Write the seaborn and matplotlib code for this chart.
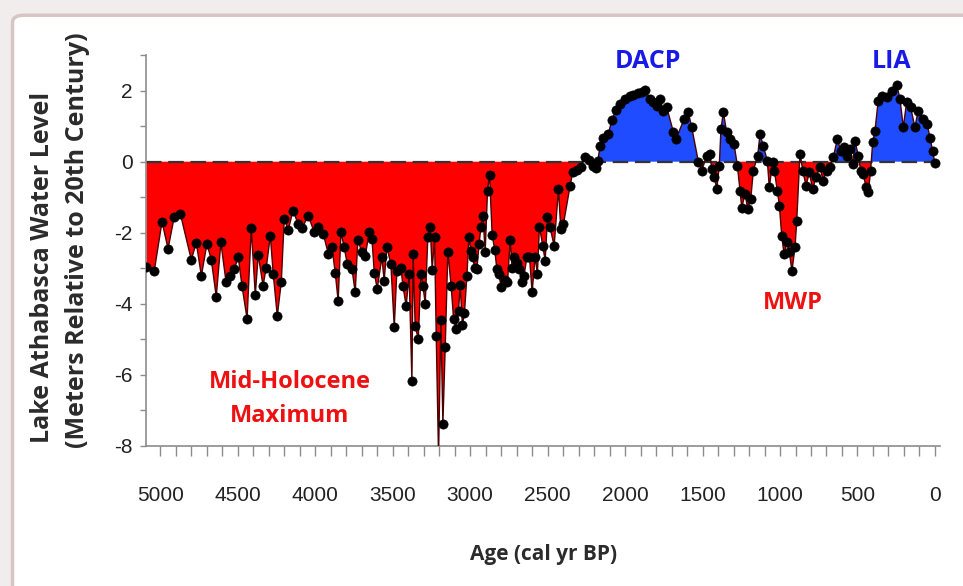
import matplotlib
matplotlib.use('Agg')
import pandas as pd
import matplotlib.pyplot as plt
import seaborn as sns
from matplotlib import font_manager
from matplotlib.patches import FancyBboxPatch
from matplotlib.ticker import MultipleLocator

# region Datos
ages = [5090, 5039, 4989, 4950, 4910, 4871, 4800, 4768, 4735, 4699,
        4671, 4639, 4609, 4576, 4548, 4522, 4497, 4473, 4440, 4413,
        4387, 4368, 4337, 4316, 4290, 4271, 4245, 4219, 4200, 4174,
        4144, 4110, 4084, 4045, 4006, 3980, 3948, 3916, 3892, 3871,
        3852, 3834, 3813, 3794, 3763, 3742, 3725, 3699, 3677, 3652,
        3634, 3619, 3600, 3570, 3555, 3538, 3512, 3490, 3473, 3447,
        3434, 3413, 3394, 3376, 3368, 3355, 3335, 3318, 3305, 3290,
        3273, 3258, 3245, 3230, 3219, 3204, 3189, 3176, 3161, 3144,
        3123, 3107, 3092, 3075, 3065, 3050, 3037, 3021, 3008, 2995,
        2983, 2972, 2957, 2942, 2931, 2918, 2903, 2888, 2875, 2858,
        2841, 2828, 2815, 2800, 2774, 2759, 2742, 2729, 2714, 2699,
        2684, 2666, 2652, 2634, 2617, 2600, 2581, 2566, 2553, 2531,
        2516, 2501, 2484, 2458, 2430, 2415, 2398, 2355, 2338, 2312,
        2286, 2258, 2230, 2204, 2189, 2176, 2161, 2144, 2108, 2086,
        2058, 2032, 2000, 1968, 1946, 1916, 1892, 1871, 1839, 1817,
        1796, 1774, 1753, 1731, 1688, 1671, 1619, 1592, 1570, 1527,
        1505, 1473, 1452, 1441, 1424, 1408, 1392, 1381, 1366, 1344,
        1323, 1297, 1275, 1258, 1247, 1226, 1208, 1189, 1172, 1144,
        1129, 1108, 1082, 1069, 1047, 1037, 1017, 1004, 989, 974,
        957, 940, 923, 903, 892, 871, 853, 832, 811, 789,
        768, 742, 721, 699, 677, 656, 630, 608, 587, 566,
        548, 531, 516, 495, 479, 462, 445, 430, 415, 402,
        387, 366, 344, 312, 279, 247, 226, 204, 183, 157,
        129, 108, 75, 50, 32, 15, 0]

levels = [-2.95, -3.07, -1.69, -2.45, -1.55, -1.46, -2.76, -2.28, -3.21, -2.31,
          -2.76, -3.80, -2.27, -3.38, -3.21, -3.02, -2.68, -3.49, -4.42, -1.88,
          -3.75, -2.62, -3.49, -2.98, -2.08, -3.16, -4.34, -3.38, -1.61, -1.92,
          -1.38, -1.75, -1.86, -1.52, -1.99, -1.83, -2.03, -2.59, -2.41, -3.12,
          -3.92, -1.99, -2.41, -2.87, -3.01, -3.68, -2.20, -2.55, -2.65, -1.99,
          -2.17, -3.12, -3.58, -2.69, -3.35, -2.41, -2.87, -4.65, -3.07, -2.98,
          -3.49, -4.06, -3.16, -6.17, -2.60, -4.62, -4.99, -3.16, -3.49, -4.00,
          -2.11, -1.83, -3.04, -2.13, -4.90, -8.30, -4.45, -7.37, -5.21, -2.53,
          -3.49, -4.42, -4.70, -4.20, -3.46, -4.59, -4.27, -3.21, -2.11, -2.51,
          -2.68, -2.98, -3.02, -2.31, -1.85, -1.52, -2.53, -0.82, -0.37, -2.06,
          -2.49, -3.02, -3.16, -3.52, -3.33, -3.40, -2.21, -2.98, -2.68, -2.84,
          -3.02, -3.40, -3.21, -2.68, -2.68, -3.68, -2.68, -3.15, -1.83, -2.37,
          -2.79, -1.57, -1.85, -2.37, -0.77, -1.90, -1.76, -0.68, -0.30, -0.23,
          -0.14, 0.14, 0.05, -0.11, -0.18, 0.03, 0.45, 0.68, 0.78, 1.17,
          1.46, 1.63, 1.77, 1.86, 1.89, 1.92, 1.95, 2.02, 1.77, 1.67,
          1.58, 1.77, 1.44, 1.53, 0.83, 0.64, 1.20, 1.39, 0.97, 0.00,
          -0.25, 0.17, 0.23, -0.21, -0.44, -0.77, -0.11, 0.92, 1.39, 0.83,
          0.64, 0.50, -0.11, -0.82, -1.29, -0.91, -1.33, -1.05, -0.25, 0.17,
          0.78, 0.45, 0.03, -0.72, 0.00, -0.25, -0.82, -1.24, -2.08, -2.60,
          -2.27, -2.55, -3.07, -2.41, -1.66, 0.23, -0.25, -0.68, -0.30, -0.77,
          -0.44, -0.16, -0.54, -0.25, -0.16, 0.12, 0.64, 0.31, 0.40, 0.17,
          0.36, -0.07, 0.59, 0.17, -0.25, -0.35, -0.72, -0.86, -0.25, 0.54,
          0.87, 1.72, 1.86, 1.81, 1.98, 2.17, 1.77, 0.97, 1.67, 1.53,
          0.97, 1.44, 1.20, 1.06, 0.68, 0.31, -0.05]

x_ticks = [0, 500, 1000, 1500, 2000, 2500, 3000, 3500, 4000, 4500, 5000]
y_ticks = [-8, -6, -4, -2, 0, 2]
periods = ["DACP", "LIA", "MWP", "Mid-Holocene\nMaximum"]
# endregion

# region Estilo y fuentes
sns.set_style("ticks")
plt.rcParams['font.family'] = ['Open Sans', 'DejaVu Sans']
plt.rcParams['axes.unicode_minus'] = False
names = {f.name for f in font_manager.fontManager.ttflist}
narrow = 'Liberation Sans Narrow' if 'Liberation Sans Narrow' in names else 'Liberation Sans'
# endregion

# region Figura con marco
fig = plt.figure(figsize=(9.63, 5.86), dpi=100, facecolor='#f2eded')
frame = FancyBboxPatch((0.013, -0.1), 1.1, 1.074, boxstyle='round,pad=0,rounding_size=0.012',
                       transform=fig.transFigure, facecolor='white', edgecolor='#d8c6c6',
                       lw=2.5, zorder=-5)
fig.patches.append(frame)

ax = fig.add_axes([0.152, 0.239, 0.824, 0.667])
ax.set_facecolor('none')
ax.set_zorder(2)
# endregion

# region Gráfico
df = pd.DataFrame({"age": ages, "level": levels})
ax.fill_between(df["age"], df["level"], 0, where=df["level"] <= 0, interpolate=True,
                color='#ff0000', lw=0, zorder=1)
ax.fill_between(df["age"], df["level"], 0, where=df["level"] >= 0, interpolate=True,
                color='#1f4cff', lw=0, zorder=1)
ax.axhline(0, color='#333333', lw=1.6, ls=(0, (7, 3)), zorder=2)
sns.lineplot(data=df, x="age", y="level", ax=ax, color='#4a0000', lw=1, sort=False, zorder=3)
sns.scatterplot(data=df, x="age", y="level", ax=ax, color='black', s=44,
                edgecolor='black', linewidth=0.5, zorder=4)
# endregion

# region Ejes
ax.set_xlim(5090, -32)
ax.set_ylim(-8, 3)
ax.set_xticks(x_ticks)
ax.set_yticks(y_ticks)
ax.xaxis.set_minor_locator(MultipleLocator(100))
ax.yaxis.set_minor_locator(MultipleLocator(1))
for side in ['top', 'right']:
    ax.spines[side].set_visible(False)
for side in ['left', 'bottom']:
    ax.spines[side].set_color('#8c8c8c')
    ax.spines[side].set_linewidth(1.2)
ax.tick_params(axis='x', which='both', direction='out', length=7, width=1,
               color='#8c8c8c', pad=22, labelsize=15, labelcolor='#222222',
               labelfontfamily=narrow)
ax.tick_params(axis='y', which='both', direction='out', length=4, width=1,
               color='#8c8c8c', pad=6, labelsize=15, labelcolor='#222222',
               labelfontfamily=narrow)
ax.set_xlabel("")
ax.set_ylabel("")

fig.text(0.564, 0.053, "Age (cal yr BP)", ha='center', va='center', fontsize=15,
         fontweight='bold', color='#2b2b2b')
fig.text(0.044, 0.544, "Lake Athabasca Water Level", rotation=90, ha='center', va='center',
         fontsize=18, fontweight='bold', color='#2b2b2b')
fig.text(0.080, 0.59, "(Meters Relative to 20th Century)", rotation=90, ha='center',
         va='center', fontsize=18, fontweight='bold', color='#2b2b2b')
# endregion

# region Anotaciones
blue_txt = '#1a1ae6'
red_txt = '#ee1111'
fig.text(648 / 963, 1 - 62 / 586, periods[0], ha='center', va='center', fontsize=18,
         fontweight='bold', color=blue_txt)
fig.text(892 / 963, 1 - 62 / 586, periods[1], ha='center', va='center', fontsize=18,
         fontweight='bold', color=blue_txt)
fig.text(793 / 963, 1 - 303 / 586, periods[2], ha='center', va='center', fontsize=17,
         fontweight='bold', color=red_txt)
fig.text(290 / 963, 1 - 399 / 586, periods[3], ha='center', va='center', fontsize=17,
         fontweight='bold', color=red_txt, linespacing=1.5)
# endregion

fig.savefig("out.png", dpi=100, facecolor=fig.get_facecolor())
